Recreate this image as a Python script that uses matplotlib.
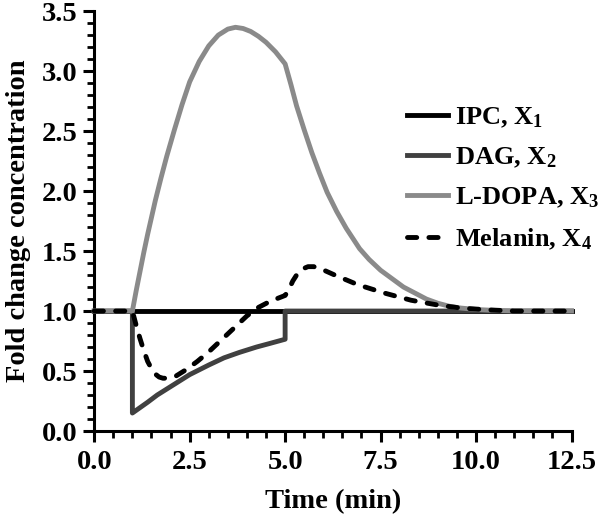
import matplotlib
matplotlib.use("Agg")
import matplotlib.pyplot as plt
from matplotlib.ticker import MultipleLocator, FormatStrFormatter

plt.rcParams['font.family'] = ['Liberation Serif', 'DejaVu Serif']
plt.rcParams['font.weight'] = 'bold'
plt.rcParams['mathtext.fontset'] = 'custom'
plt.rcParams['mathtext.rm'] = 'Liberation Serif:bold'
plt.rcParams['mathtext.bf'] = 'Liberation Serif:bold'
plt.rcParams['mathtext.it'] = 'Liberation Serif:bold'
plt.rcParams['mathtext.default'] = 'bf'

# ---- data ----
labels = ["IPC, X$_{1}$", "DAG, X$_{2}$", "L-DOPA, X$_{3}$", "Melanin, X$_{4}$"]

ipc_t = [0.0, 12.5]
ipc_v = [1.0, 1.0]

dag_t = [0.0, 1.0, 1.0, 1.2, 1.4, 1.65, 2.0, 2.5, 3.0, 3.4, 3.8, 4.25, 4.6, 5.0, 5.0, 12.5]
dag_v = [1.0, 1.0, 0.15, 0.195, 0.24, 0.30, 0.37, 0.47, 0.55, 0.61, 0.655, 0.70, 0.73, 0.765, 1.0, 1.0]

ldopa_t = [0.0, 1.0, 1.1, 1.2, 1.3, 1.4, 1.5, 1.6, 1.75, 1.9, 2.1, 2.3, 2.5, 2.75, 3.0,
           3.25, 3.5, 3.7, 3.9, 4.1, 4.3, 4.5, 4.75, 5.0,
           5.15, 5.3, 5.5, 5.7, 5.9, 6.1, 6.35, 6.6, 6.95, 7.2, 7.5, 7.8, 8.1, 8.4, 8.7,
           9.0, 9.3, 9.6, 10.0, 10.5, 11.0, 12.5]
ldopa_v = [1.0, 1.0, 1.17, 1.33, 1.49, 1.64, 1.78, 1.92, 2.11, 2.29, 2.51, 2.72, 2.91, 3.08, 3.21,
           3.30, 3.35, 3.365, 3.355, 3.33, 3.29, 3.24, 3.16, 3.06,
           2.89, 2.71, 2.51, 2.32, 2.15, 1.99, 1.83, 1.69, 1.52, 1.43, 1.34, 1.27, 1.20, 1.15, 1.10,
           1.065, 1.04, 1.025, 1.013, 1.005, 1.0, 1.0]

mel_t = [0.0, 1.0, 1.1, 1.2, 1.3, 1.4, 1.5, 1.6, 1.7, 1.8, 1.9, 2.0, 2.15, 2.4, 2.7, 3.0,
         3.4, 3.7, 4.0, 4.3, 4.6, 5.0, 5.1, 5.2, 5.3, 5.45, 5.6, 5.75, 5.95, 6.3, 6.9, 7.6,
         8.3, 9.0, 9.6, 10.3, 11.0, 12.5]
mel_v = [1.0, 1.0, 0.88, 0.77, 0.67, 0.58, 0.52, 0.475, 0.45, 0.44, 0.44, 0.445, 0.46, 0.51, 0.58, 0.66,
         0.78, 0.87, 0.96, 1.03, 1.08, 1.13, 1.18, 1.25, 1.30, 1.35, 1.37, 1.37, 1.35, 1.30, 1.22, 1.15,
         1.09, 1.05, 1.025, 1.01, 1.0, 1.0]

fig = plt.figure(figsize=(6.0, 5.21), dpi=100)
ax = fig.add_axes([0.157, 0.1727, 0.7955, 0.806])

lw = 3.5
ax.plot(ipc_t, ipc_v, color='#000000', lw=lw, label=labels[0], clip_on=False, zorder=2)
ax.plot(dag_t, dag_v, color='#404040', lw=lw, label=labels[1], clip_on=False, zorder=3,
        solid_joinstyle='round')
ax.plot(ldopa_t, ldopa_v, color='#8a8a8a', lw=lw, label=labels[2], clip_on=False, zorder=4,
        solid_joinstyle='round')
ax.plot(mel_t, mel_v, color='#000000', lw=lw, label=labels[3], clip_on=False, zorder=5,
        dashes=(1.9, 2.5), dash_capstyle='round')

ax.set_xlim(0, 12.5)
ax.set_ylim(0, 3.5)
ax.xaxis.set_major_locator(MultipleLocator(2.5))
ax.xaxis.set_minor_locator(MultipleLocator(0.5))
ax.yaxis.set_major_locator(MultipleLocator(0.5))
ax.yaxis.set_minor_locator(MultipleLocator(0.1))
ax.xaxis.set_major_formatter(FormatStrFormatter('%.1f'))
ax.yaxis.set_major_formatter(FormatStrFormatter('%.1f'))

for s in ['top', 'right']:
    ax.spines[s].set_visible(False)
for s in ['left', 'bottom']:
    ax.spines[s].set_linewidth(2.2)

ax.tick_params(which='major', direction='out', length=8, width=2.2, labelsize=20.5, pad=4)
ax.tick_params(which='minor', direction='out', length=5, width=2.0)
ax.tick_params(axis='x', which='major', pad=6)
for lab in ax.get_xticklabels() + ax.get_yticklabels():
    lab.set_fontweight('bold')

ax.set_xlabel('Time (min)', fontsize=20.5, fontweight='bold', labelpad=10)
ax.set_ylabel('Fold change concentration', fontsize=20.5, fontweight='bold', labelpad=8)

leg = ax.legend(loc='upper left', bbox_to_anchor=(0.655, 0.775), frameon=False,
                fontsize=19, handlelength=1.55, handletextpad=0.27, labelspacing=0.6,
                borderpad=0, borderaxespad=0)
for t in leg.get_texts():
    t.set_fontweight('bold')

fig.savefig('out.png', dpi=100)
